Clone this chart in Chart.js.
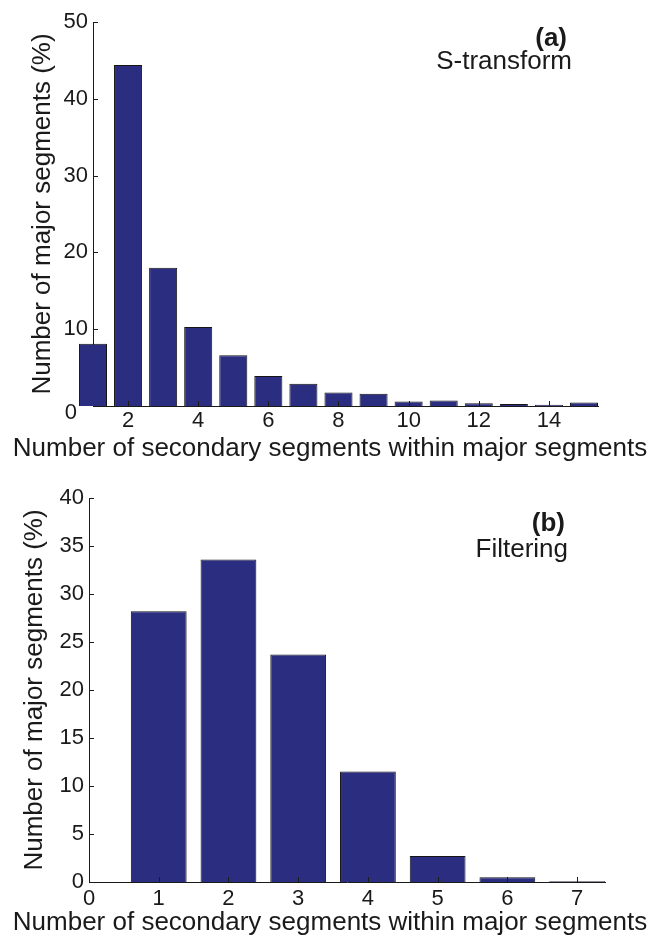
<!DOCTYPE html>
<html>
<head>
<meta charset="utf-8">
<script src="https://cdn.jsdelivr.net/npm/chart.js@4.4.1/dist/chart.umd.min.js"></script>
<style>
  body { margin: 0; background: #fff; }
  .panel { position: absolute; left: 0; width: 652px; }
  #panelA { top: 0; height: 466px; }
  #panelB { top: 470px; height: 467px; }
</style>
</head>
<body>
<div class="panel" id="panelA"><canvas id="chartA"></canvas></div>
<div class="panel" id="panelB"><canvas id="chartB"></canvas></div>
<script>
// (a) S-transform
const countsA = [1, 2, 3, 4, 5, 6, 7, 8, 9, 10, 11, 12, 13, 14, 15];
const percentA = [8.1, 44.4, 18.0, 10.3, 6.6, 3.9, 2.9, 1.75, 1.6, 0.6, 0.7, 0.35, 0.25, 0.15, 0.45];
const xTicksA = [2, 4, 6, 8, 10, 12, 14];
const yTicksA = [0, 10, 20, 30, 40, 50];

// (b) Filtering
const countsB = [1, 2, 3, 4, 5, 6, 7];
const percentB = [28.2, 33.6, 23.7, 11.5, 2.7, 0.5, 0.07];
const xTicksB = [0, 1, 2, 3, 4, 5, 6, 7];
const yTicksB = [0, 5, 10, 15, 20, 25, 30, 35, 40];

const xTitle = 'Number of secondary segments within major segments';
const yTitle = 'Number of major segments (%)';

const barFill = '#2a2d80';
const barEdge = '#151515';
const FONT = '"Liberation Sans", Arial, Helvetica, sans-serif';

Chart.defaults.font.family = FONT;
Chart.defaults.color = '#1a1a1a';

// matlab style ticks pointing into the plot
const inwardTicks = {
  id: 'inwardTicks',
  afterDatasetsDraw(chart) {
    const { ctx, chartArea, scales: { x, y } } = chart;
    ctx.save();
    ctx.strokeStyle = '#1a1a1a';
    ctx.lineWidth = 1;
    ctx.beginPath();
    x.ticks.forEach(t => {
      const px = Math.round(x.getPixelForValue(t.value)) + 0.5;
      ctx.moveTo(px, chartArea.bottom);
      ctx.lineTo(px, chartArea.bottom - 5);
    });
    y.ticks.forEach(t => {
      const py = Math.round(y.getPixelForValue(t.value)) + 0.5;
      ctx.moveTo(chartArea.left, py);
      ctx.lineTo(chartArea.left + 5, py);
    });
    ctx.stroke();
    ctx.restore();
  }
};

// panel tag, method name, x caption and the moved "0"
const panelText = {
  id: 'panelText',
  afterDraw(chart, args, opts) {
    const { ctx, chartArea } = chart;
    ctx.save();
    ctx.fillStyle = '#1a1a1a';
    ctx.textAlign = 'right';
    ctx.textBaseline = 'middle';
    ctx.font = 'bold 26px ' + FONT;
    ctx.fillText(opts.tag, opts.right, chartArea.top + opts.tagDy);
    ctx.font = '26px ' + FONT;
    ctx.fillText(opts.method, opts.right + opts.methodDx, chartArea.top + opts.methodDy);
    ctx.textAlign = 'center';
    ctx.fillText(xTitle, 330, chart.height - opts.captionDy);
    if (opts.zeroLabel) {
      const y = chart.scales.y;
      ctx.textAlign = 'right';
      ctx.font = '22px ' + FONT;
      ctx.fillText('0', chartArea.left - 16, y.getPixelForValue(0) + 7);
    }
    ctx.restore();
  }
};

function makeChart(canvasId, counts, values, xTicks, yTicks, cfg) {
  return new Chart(document.getElementById(canvasId), {
    type: 'bar',
    data: {
      datasets: [{
        data: counts.map((c, i) => ({ x: c, y: values[i] })),
        backgroundColor: barFill,
        borderColor: barEdge,
        borderWidth: 1,
        borderSkipped: 'start',
        barPercentage: 0.8,
        categoryPercentage: 1.0,
        clip: false
      }]
    },
    options: {
      responsive: true,
      maintainAspectRatio: false,
      animation: false,
      layout: { padding: { top: cfg.top, right: cfg.right, left: 0, bottom: 0 } },
      plugins: {
        legend: { display: false },
        tooltip: { enabled: false },
        panelText: cfg.text
      },
      scales: {
        x: {
          type: 'linear',
          min: cfg.xMin,
          max: cfg.xMax,
          offset: false,
          grid: { display: false, drawTicks: false },
          border: { display: true, color: '#1a1a1a', width: 1 },
          afterBuildTicks: axis => { axis.ticks = xTicks.map(v => ({ value: v })); },
          afterFit: axis => { axis.height = cfg.xHeight; },
          ticks: { font: { size: 22 }, padding: cfg.xPad, maxRotation: 0, autoSkip: false }
        },
        y: {
          min: yTicks[0],
          max: yTicks[yTicks.length - 1],
          grid: { display: false, drawTicks: false },
          border: { display: true, color: '#1a1a1a', width: 1 },
          afterBuildTicks: axis => { axis.ticks = yTicks.map(v => ({ value: v })); },
          afterFit: axis => { axis.width = cfg.yWidth; },
          ticks: {
            font: { size: 22 },
            padding: 5,
            callback: v => (cfg.text.zeroLabel && v === 0) ? '' : String(v)
          },
          title: {
            display: true,
            text: yTitle,
            font: { size: 26 },
            padding: { top: cfg.yTitlePad, bottom: 0 }
          }
        }
      }
    },
    plugins: [inwardTicks, panelText]
  });
}

makeChart('chartA', countsA, percentA, xTicksA, yTicksA, {
  top: 22, right: 54, xMin: 1, xMax: 15.4, xHeight: 60, yWidth: 93, yTitlePad: 27, xPad: 2,
  text: { tag: '(a)', method: 'S-transform', right: 567, methodDx: 5, tagDy: 17, methodDy: 40, captionDy: 17, zeroLabel: true }
});

makeChart('chartB', countsB, percentB, xTicksB, yTicksB, {
  top: 28, right: 47, xMin: 0, xMax: 7.4, xHeight: 55, yWidth: 89, yTitlePad: 19, xPad: 4,
  text: { tag: '(b)', method: 'Filtering', right: 565, methodDx: 3, tagDy: 26, methodDy: 52, captionDy: 14, zeroLabel: false }
});
</script>
</body>
</html>
